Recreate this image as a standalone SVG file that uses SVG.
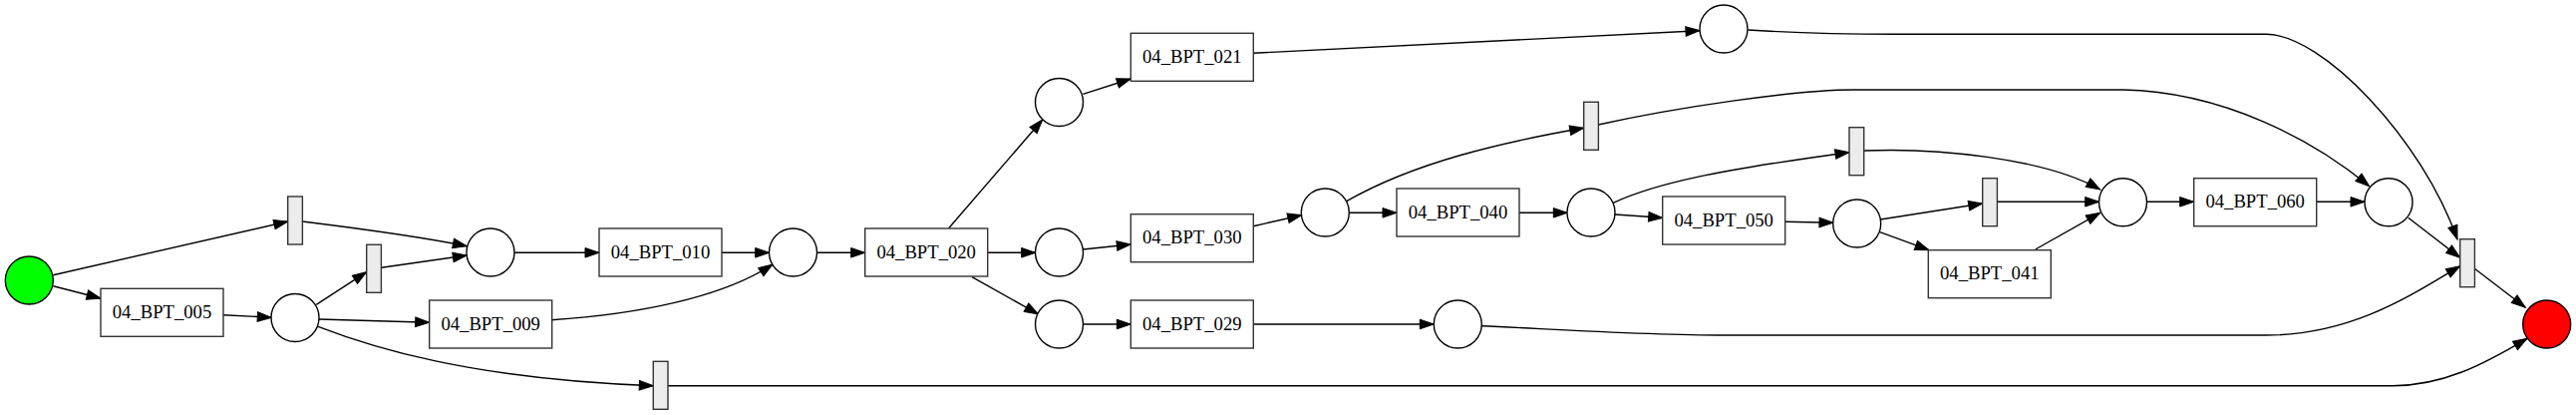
<svg xmlns="http://www.w3.org/2000/svg" width="2584" height="416" viewBox="0 0 2584 416">
<style>
.pl{fill:#fff;stroke:#000;stroke-width:1.4}
.bx{fill:#fff;stroke:#333;stroke-width:1.4}
.si{fill:#ececec;stroke:#333;stroke-width:1.4}
.lb{font-family:"Liberation Serif","Times New Roman",serif;font-size:18.67px;text-anchor:middle;fill:#000}
.e{fill:none;stroke:#000;stroke-width:1.4;marker-end:url(#ah)}
</style>
<defs>
<marker id="ah" markerWidth="14" markerHeight="10" refX="14" refY="4.8" orient="auto" markerUnits="userSpaceOnUse" viewBox="0 0 14 9.6" overflow="visible">
<path d="M0,0 L14,4.8 L0,9.6 z" fill="#000" stroke="#000" stroke-width="1"/>
</marker>
</defs>
<rect width="2584" height="416" fill="#fff"/>
<g id="connectors">
<path class="e" d="M53.3,275.7 L288.7,222"/>
<path class="e" d="M53.3,286.7 L101,299"/>
<path class="e" d="M224,315.7 L272.3,318.3"/>
<path class="e" d="M317.3,305.3 L367.7,272.7"/>
<path class="e" d="M319.7,320 L430.7,323.3"/>
<path class="e" d="M319,327.3 C370,347 470,380 655.3,386.7"/>
<path class="e" d="M303.3,222 C360,229 420,237 468.3,246.7"/>
<path class="e" d="M382.7,268.3 L468.3,256"/>
<path class="e" d="M516,253.3 L601,253.3"/>
<path class="e" d="M724,253.3 L771.7,253.3"/>
<path class="e" d="M553.3,320.7 C640,315 725,298 775,265"/>
<path class="e" d="M819.3,253.3 L867.7,253.3"/>
<path class="e" d="M670,386.7 L2400,386.7 C2450,386.7 2490,366 2535,339.3"/>
<path class="e" d="M951.7,228.7 L1045.7,120"/>
<path class="e" d="M990.7,253.3 L1038.7,253.3"/>
<path class="e" d="M975,277.7 L1041.7,315"/>
<path class="e" d="M1086.3,94.3 L1134.3,79"/>
<path class="e" d="M1086.3,250 L1134.3,245"/>
<path class="e" d="M1086.3,325 L1134.3,325"/>
<path class="e" d="M1257.3,53.3 L1705,30.7"/>
<path class="e" d="M1257.3,226.7 L1305.7,215.7"/>
<path class="e" d="M1257.3,325 L1438.3,325"/>
<path class="e" d="M1353,213.3 L1401,213.3"/>
<path class="e" d="M1350.7,201.7 C1420,162 1510,142 1588.7,128.3"/>
<path class="e" d="M1524,213.3 L1572.3,213.3"/>
<path class="e" d="M1620,215 L1667.7,218.3"/>
<path class="e" d="M1618.3,203.3 C1660,184 1720,171 1855,152.7"/>
<path class="e" d="M1603.3,125 C1680,108 1800,90 1860,90 L2130,90 C2230,92 2320,140 2376.7,186.7"/>
<path class="e" d="M1790.7,222.3 L1839,223.3"/>
<path class="e" d="M1886.3,220 L1988.7,204"/>
<path class="e" d="M1885.7,232.7 L1935,250.7"/>
<path class="e" d="M1870,151 C1940,148 2050,158 2106.7,190"/>
<path class="e" d="M2003.3,202.3 L2105.7,202.3"/>
<path class="e" d="M2041.7,250 L2106.7,213.3"/>
<path class="e" d="M2153.3,202.3 L2200.7,202.3"/>
<path class="e" d="M2324,202.3 L2372,202.3"/>
<path class="e" d="M2415.7,218.3 L2467.7,258.3"/>
<path class="e" d="M1753.3,30 C1800,33 1860,34.3 1900,34.3 L2273,34.3 C2330,34.3 2430,140 2465,240"/>
<path class="e" d="M1486.3,326.7 C1560,330 1650,336 1730,336 L2273,336 C2360,336 2420,295 2467.7,266.7"/>
<path class="e" d="M2482.3,269.3 L2533.3,308.3"/>
</g>
<g id="start"><circle cx="29.3" cy="281" r="24" fill="#00ff00" stroke="#000" stroke-width="1.4"/></g>
<g id="end"><circle cx="2554.7" cy="325" r="24" fill="#ff0000" stroke="#000" stroke-width="1.4"/></g>
<g id="p1"><circle class="pl" cx="296" cy="318.5" r="24"/></g>
<g id="p2"><circle class="pl" cx="492" cy="253" r="24"/></g>
<g id="p3"><circle class="pl" cx="795.5" cy="253" r="24"/></g>
<g id="p4"><circle class="pl" cx="1062.5" cy="102.5" r="24"/></g>
<g id="p5"><circle class="pl" cx="1062.5" cy="253" r="24"/></g>
<g id="p6"><circle class="pl" cx="1062.5" cy="325" r="24"/></g>
<g id="p7"><circle class="pl" cx="1329.3" cy="213" r="24"/></g>
<g id="p8"><circle class="pl" cx="1596" cy="213" r="24"/></g>
<g id="p9"><circle class="pl" cx="1729" cy="29" r="24"/></g>
<g id="p10"><circle class="pl" cx="1462.3" cy="325" r="24"/></g>
<g id="p11"><circle class="pl" cx="1862.7" cy="224" r="24"/></g>
<g id="p12"><circle class="pl" cx="2129.5" cy="202.7" r="24"/></g>
<g id="p13"><circle class="pl" cx="2396" cy="202.7" r="24"/></g>
<g id="t005"><rect class="bx" x="101" y="289.3" width="123" height="48"/><text class="lb" x="162.5" y="318.8">04_BPT_005</text></g>
<g id="t009"><rect class="bx" x="430.7" y="301" width="123" height="48"/><text class="lb" x="492.2" y="330.5">04_BPT_009</text></g>
<g id="t010"><rect class="bx" x="601" y="229" width="123" height="48"/><text class="lb" x="662.5" y="258.5">04_BPT_010</text></g>
<g id="t020"><rect class="bx" x="867.7" y="229" width="123" height="48"/><text class="lb" x="929.2" y="258.5">04_BPT_020</text></g>
<g id="t021"><rect class="bx" x="1134.3" y="33.3" width="123" height="48"/><text class="lb" x="1195.8" y="62.8">04_BPT_021</text></g>
<g id="t030"><rect class="bx" x="1134.3" y="214.7" width="123" height="48"/><text class="lb" x="1195.8" y="244.2">04_BPT_030</text></g>
<g id="t029"><rect class="bx" x="1134.3" y="301" width="123" height="48"/><text class="lb" x="1195.8" y="330.5">04_BPT_029</text></g>
<g id="t040"><rect class="bx" x="1401" y="189" width="123" height="48"/><text class="lb" x="1462.5" y="218.5">04_BPT_040</text></g>
<g id="t050"><rect class="bx" x="1667.7" y="197" width="123" height="48"/><text class="lb" x="1729.2" y="226.5">04_BPT_050</text></g>
<g id="t041"><rect class="bx" x="1934.3" y="250.7" width="123" height="48"/><text class="lb" x="1995.8" y="280.2">04_BPT_041</text></g>
<g id="t060"><rect class="bx" x="2200.7" y="178.7" width="123" height="48"/><text class="lb" x="2262.2" y="208.2">04_BPT_060</text></g>
<g id="s1"><rect class="si" x="288.7" y="197" width="14.7" height="48"/></g>
<g id="s2"><rect class="si" x="367.7" y="245.3" width="14.7" height="48"/></g>
<g id="s3"><rect class="si" x="655.3" y="362.3" width="14.7" height="48"/></g>
<g id="s4"><rect class="si" x="1588.7" y="102.3" width="14.7" height="48"/></g>
<g id="s5"><rect class="si" x="1855" y="127.7" width="14.7" height="48"/></g>
<g id="s6"><rect class="si" x="1988.7" y="178.7" width="14.7" height="48"/></g>
<g id="s7"><rect class="si" x="2467.7" y="239.7" width="14.7" height="48"/></g>
</svg>
